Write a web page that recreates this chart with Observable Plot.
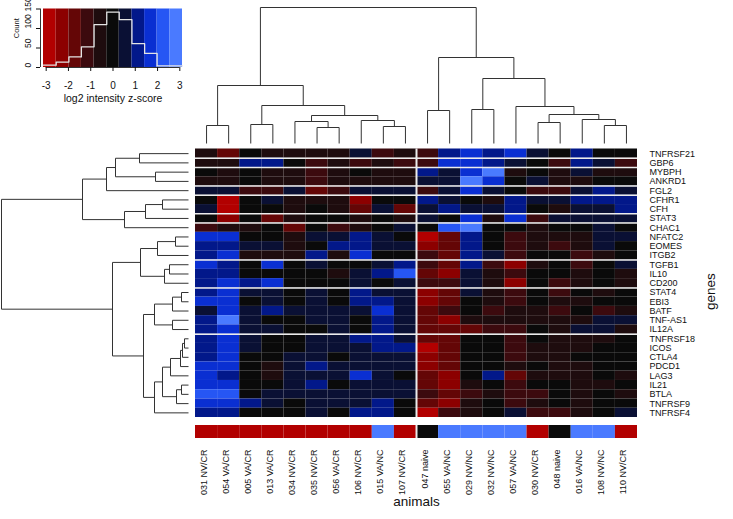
<!DOCTYPE html>
<html><head><meta charset="utf-8">
<script src="https://cdn.jsdelivr.net/npm/d3@7"></script>
<script src="https://cdn.jsdelivr.net/npm/@observablehq/plot@0.6"></script>
<style>
body{margin:0;background:#fff;}
#chart{position:relative;width:733px;height:519px;overflow:hidden;background:#fff;}
#chart svg{position:absolute;left:0;top:0;}
</style></head><body><div id="chart"></div>
<script>
const animals = ["031 NV/CR","054 VA/CR","005 VA/CR","013 VA/CR","034 NV/CR","035 NV/CR","056 VA/CR","106 NV/CR","015 VA/NC","107 NV/CR","047 naive","055 VA/NC","029 NV/NC","032 NV/NC","057 VA/NC","030 NV/CR","048 naive","016 VA/NC","108 NV/NC","110 NV/CR"];
const groups = ["CR","CR","CR","CR","CR","CR","CR","CR","NC","CR","naive","NC","NC","NC","NC","CR","naive","NC","NC","CR"];
const genes = ["TNFRSF21","GBP6","MYBPH","ANKRD1","FGL2","CFHR1","CFH","STAT3","CHAC1","NFATC2","EOMES","ITGB2","TGFB1","IL10","CD200","STAT4","EBI3","BATF","TNF-AS1","IL12A","TNFRSF18","ICOS","CTLA4","PDCD1","LAG3","IL21","BTLA","TNFRSF9","TNFRSF4"];
const z = [
[-0.6,-1.7,0,-0.6,-0.6,-0.6,-0.6,0.6,-1.1,-0.6,-1.1,1.1,1.7,1.1,1.7,0.6,0,1.1,0,0],
[-0.6,-0.6,1.1,1.1,0,-1.1,-0.6,-1.1,-0.6,-1.1,-1.1,1.7,1.7,1.1,0.6,0,-1.1,1.1,0.6,-1.1],
[0,-0.6,0,-0.6,-0.6,-1.1,-0.6,0,-0.6,-0.6,1.1,0.6,1.7,2.9,-0.6,0,-0.6,0.6,-0.6,-0.6],
[-0.6,-0.6,0,-0.6,-0.6,-1.1,-0.6,-0.6,-0.6,-0.6,0.6,0.6,2.9,1.7,0,0.6,-0.6,-0.6,0,0],
[0.6,0.6,-1.1,-1.1,0.6,-1.7,-1.1,0.6,0.6,0.6,-1.1,0.6,1.7,0.6,0,-1.1,-1.1,0.6,1.1,0.6],
[0,-2.9,0,0.6,-0.6,-0.6,-0.6,-2.3,0,0,1.1,0.6,0,-0.6,1.1,0.6,0.6,1.1,1.1,1.1],
[0.6,-2.9,0,0,-0.6,0,-0.6,-1.7,0.6,-1.7,0.6,1.1,0.6,0.6,1.1,0,-0.6,0.6,0.6,1.1],
[0,-2.3,0,-1.7,-0.6,0,0,-0.6,0,-0.6,0.6,0,1.7,-0.6,1.7,-1.1,0.6,0.6,0.6,0.6],
[-1.1,-0.6,-0.6,0,-1.7,0,-1.1,-0.6,0,0.6,0,2.3,2.9,0,0,-0.6,0,0,0.6,0],
[1.7,1.7,0,0,-0.6,0.6,0.6,1.1,0.6,0,-2.9,-1.7,1.1,0,-1.1,-0.6,-0.6,-0.6,0.6,0.6],
[1.1,1.1,0.6,0.6,-0.6,0,1.1,1.1,0.6,0.6,-2.3,-1.7,1.1,0,-1.1,-0.6,-1.1,-0.6,0.6,0],
[1.1,1.7,-0.6,-0.6,-0.6,1.1,-0.6,1.7,0,0,-1.1,-1.7,1.1,0.6,-1.1,0,0,-1.1,-0.6,0],
[1.7,1.1,0,1.7,0,0.6,0,0,0.6,1.1,-1.1,-1.7,1.1,-1.1,-2.3,-0.6,0,-1.1,0,0.6],
[1.1,1.1,0,0,0,0,-0.6,0.6,1.1,2.3,-1.7,-2.3,0.6,-0.6,-1.1,0,0,-0.6,0,-0.6],
[1.1,1.7,1.1,1.7,0,0,0,0.6,0,0.6,-1.1,-1.1,0.6,-0.6,-2.3,0,-1.1,-0.6,0,-0.6],
[1.1,1.7,0.6,0.6,0,0.6,0,1.1,0.6,0.6,-2.3,-1.7,0.6,-0.6,-1.1,0,-1.1,0,-0.6,0],
[1.7,1.7,0,0.6,0,0.6,0,1.1,1.1,0.6,-2.3,-1.7,0,-0.6,-1.1,0,-0.6,-0.6,0,0],
[0.6,1.7,0.6,1.1,0.6,0.6,0.6,0.6,1.7,0.6,-1.7,-1.1,0,-1.1,-0.6,-0.6,-1.1,0,-1.1,-0.6],
[1.1,2.9,0.6,0,0,0.6,0.6,0,1.1,0.6,-1.7,-2.3,-0.6,-0.6,-0.6,-0.6,-0.6,-0.6,0.6,0.6],
[1.1,1.7,0.6,0.6,0,0,0.6,0,1.1,0.6,-1.7,-1.7,-1.7,-1.1,-1.1,0,-0.6,0.6,0.6,-0.6],
[1.1,1.7,0.6,0,0,0.6,0.6,1.1,1.1,0.6,-1.7,-1.7,0,0,-1.1,0,-0.6,-0.6,-0.6,0],
[1.1,1.7,0.6,0,0,0.6,0.6,0.6,1.1,1.1,-2.9,-1.7,0,0,-1.1,-0.6,-0.6,-0.6,0,0],
[1.1,1.7,0,0,0.6,0.6,0,0.6,0.6,0.6,-2.3,-1.7,0,0,-1.1,-0.6,-0.6,0,0,0],
[1.7,1.7,0,-0.6,0.6,1.1,0.6,0.6,0.6,0.6,-2.3,-1.7,0,0,-0.6,0,-0.6,-0.6,0,0],
[1.7,1.1,0,-0.6,0.6,0.6,0.6,1.7,0.6,0,-1.7,-2.3,0,1.1,-1.7,-0.6,-0.6,-0.6,0,-0.6],
[1.7,1.7,0,0,0.6,1.1,0,0.6,0.6,0.6,-1.7,-2.3,-0.6,0,-1.1,0,0,-0.6,-0.6,0],
[2.3,2.3,0,0.6,0.6,0.6,0.6,0.6,0.6,0.6,-1.1,-1.7,-1.1,-0.6,-1.1,-1.1,0,-0.6,0,-0.6],
[1.7,1.7,1.1,0.6,0,0.6,0.6,0.6,1.1,0,-1.7,-2.3,-0.6,0,-1.1,-0.6,0,-0.6,0,0],
[1.1,1.1,0,0,0,0.6,0,1.1,1.1,0,-2.9,-1.1,-0.6,0,0.6,-1.1,-1.1,-0.6,0,0.6]
];
const keyBreaks = [-3.12,-2.55,-1.98,-1.42,-0.85,-0.28,0.28,0.85,1.42,1.98,2.55,3.12];
const keyCounts = [6,14,27,53,110,142,123,61,36,4,4];
const keyXTicks = [-3,-2,-1,0,1,2,3];
const keyYTicks = [0,50,100,150];
const palette = ["#b20000","#8c0000","#640606","#3c0a0e","#1e0c0e","#0a0a0a","#0a1034","#02188a","#0a2fd2","#2656f4","#4a7aff"];
const groupDomain = ["CR","NC","naive"];
const groupColors = ["#b20000","#4a7aff","#0a0a0a"];
// dendrograms: [height, left, right]; leaves = display index
const colTree = [13.6,
  [5.8, [1.8, 0, 1], [3.8, [1.9, 2, 3], [2.8, [2.2, 4, [1.6, 5, 6]], [2.3, 7, [1.7, 8, 9]]]]],
  [8.6, [3.3, 10, 11], [6.5, [3.4, 12, 13], [3.7, 14, [2.9, [2.1, 15, 16], [2.4, 17, [1.8, 18, 19]]]]]]];
const rowTree = [18.7,
  [10.6,
    [8.2, [7.3, [4.9, 0, 1], [3.3, 2, 3]], 4],
    [6.4, [4.3, [2.6, 5, 6], 7], 8]],
  [7.6,
    [4.8, [3.1, [1.3, 9, 10], 11], [2.4, [1.9, 12, 13], 14]],
    [4.5,
      [3.4, [1.6, [0.7, 15, 16], 17], [1.6, 18, 19]],
      [3.4, [2.6, [1.8, [0.8, [0.6, [0.4, 20, 21], 22], 23], 24], [1.2, [0.7, 25, 26], 27]], 28]]]];
const rowSeps = [1,2,4,5,7,8,12,15,20];
const colSeps = [10];

const FONT = "'Liberation Sans', Arial, sans-serif";
const W = 733, H = 519;
const base = {width: W, height: H, style: {background: "transparent", overflow: "visible", fontFamily: FONT, color: "#111"}};
const heatColor = {type: "threshold", domain: keyBreaks.slice(1, -1), range: palette};

function segments(tree) {
  const segs = [];
  (function rec(n) {
    if (typeof n === "number") return {p: n + 0.5, h: 0};
    const [h, a, b] = n;
    const A = rec(a), B = rec(b);
    segs.push({p1: A.p, h1: A.h, p2: A.p, h2: h});
    segs.push({p1: B.p, h1: B.h, p2: B.p, h2: h});
    segs.push({p1: A.p, h1: h, p2: B.p, h2: h});
    return {p: (A.p + B.p) / 2, h};
  })(tree);
  return segs;
}

const chart = document.getElementById("chart");

// ---- colour key with histogram
const keyBins = keyCounts.map((c, i) => ({x1: keyBreaks[i], x2: keyBreaks[i + 1], mid: (keyBreaks[i] + keyBreaks[i + 1]) / 2, count: c}));
const stepPts = keyBins.map(d => ({x: d.x1, y: d.count})).concat([{x: keyBreaks[keyBreaks.length - 1], y: keyCounts[keyCounts.length - 1]}]);
const yMax = keyYTicks[keyYTicks.length - 1];
chart.append(Plot.plot({...base,
  marginLeft: 43, marginRight: W - 182, marginTop: 8.5, marginBottom: H - 67,
  x: {domain: [keyBreaks[0], keyBreaks[keyBreaks.length - 1]]},
  y: {domain: [0, yMax]},
  color: heatColor,
  marks: [
    Plot.rect(keyBins, {x1: "x1", x2: "x2", y1: 0, y2: yMax, fill: "mid"}),
    Plot.line(stepPts, {x: "x", y: "y", curve: "step-after", stroke: "#e4e4e4", strokeWidth: 1.3}),
    Plot.ruleY([0], {x1: keyXTicks[0], x2: keyXTicks[keyXTicks.length - 1], stroke: "#333"}),
    Plot.axisX({ticks: keyXTicks, tickSize: 4, tickPadding: 10, fontSize: 10, tickFormat: d => String(d), label: null}),
    Plot.ruleX([keyBreaks[0]], {y1: 0, y2: yMax, dx: -3, stroke: "#333"}),
    Plot.axisY({ticks: keyYTicks, tickSize: 4, dx: -3, tickFormat: () => "", label: null}),
    Plot.text(keyYTicks.slice(0, -1), {y: d => d, text: d => String(d), frameAnchor: "left", dx: -15, rotate: -90, fontSize: 8.5}),
    Plot.text(keyYTicks.slice(-1), {y: d => d, text: d => String(d), frameAnchor: "left", dx: -15, dy: 2.5, rotate: -90, fontSize: 8.5}),
    Plot.text(["Count"], {frameAnchor: "left", dx: -27, rotate: -90, fontSize: 7.5}),
    Plot.text(["log2 intensity z-score"], {frameAnchor: "bottom", dy: 34, fontSize: 10.5})
  ]
}));

// ---- column dendrogram
chart.append(Plot.plot({...base,
  marginLeft: 195, marginRight: W - 637, marginTop: 7, marginBottom: H - 143,
  x: {domain: [0, animals.length], axis: null},
  y: {domain: [0, colTree[0]], axis: null},
  marks: [Plot.link(segments(colTree), {x1: "p1", y1: "h1", x2: "p2", y2: "h2", stroke: "#333", strokeWidth: 1})]
}));

// ---- row dendrogram
chart.append(Plot.plot({...base,
  marginLeft: 1, marginRight: W - 188, marginTop: 148.5, marginBottom: H - 417,
  x: {domain: [rowTree[0], 0], axis: null},
  y: {domain: [0, genes.length], reverse: true, axis: null},
  marks: [Plot.link(segments(rowTree), {x1: "h1", y1: "p1", x2: "h2", y2: "p2", stroke: "#333", strokeWidth: 1})]
}));

// ---- heatmap
const cells = genes.flatMap((g, r) => animals.map((a, c) => ({r, c, v: z[r][c]})));
chart.append(Plot.plot({...base,
  marginLeft: 195, marginRight: W - 637, marginTop: 148.5, marginBottom: H - 417,
  x: {domain: [0, animals.length], axis: null},
  y: {domain: [0, genes.length], reverse: true, axis: null},
  color: heatColor,
  marks: [
    Plot.rect(cells, {x1: d => d.c, x2: d => d.c + 1, y1: d => d.r, y2: d => d.r + 1, fill: "v"}),
    Plot.ruleY(rowSeps, {stroke: "#ececec", strokeWidth: 1.5}),
    Plot.ruleX(colSeps, {stroke: "#ececec", strokeWidth: 2}),
    Plot.text(genes, {y: (d, i) => i + 0.5, frameAnchor: "right", dx: 12, textAnchor: "start", fontSize: 9, fill: "#111"}),
    Plot.text(["genes"], {frameAnchor: "right", dx: 73, dy: -10, rotate: -90, fontSize: 13.5, fill: "#111"})
  ]
}));

// ---- side colour bar + column labels
chart.append(Plot.plot({...base,
  marginLeft: 195, marginRight: W - 637, marginTop: 425, marginBottom: H - 438,
  x: {domain: [0, animals.length], axis: null},
  color: {type: "ordinal", domain: groupDomain, range: groupColors},
  marks: [
    Plot.rect(groups, {x1: (d, i) => i, x2: (d, i) => i + 1, fill: d => d}),
    Plot.ruleX(colSeps, {stroke: "#ececec", strokeWidth: 2}),
    Plot.text(animals, {x: (d, i) => i + 0.5, frameAnchor: "bottom", dy: 11, rotate: -90, textAnchor: "end", fontSize: 9, fill: "#111"}),
    Plot.text(["animals"], {frameAnchor: "bottom", dy: 67, fontSize: 13.5, fill: "#111"})
  ]
}));
</script></body></html>
